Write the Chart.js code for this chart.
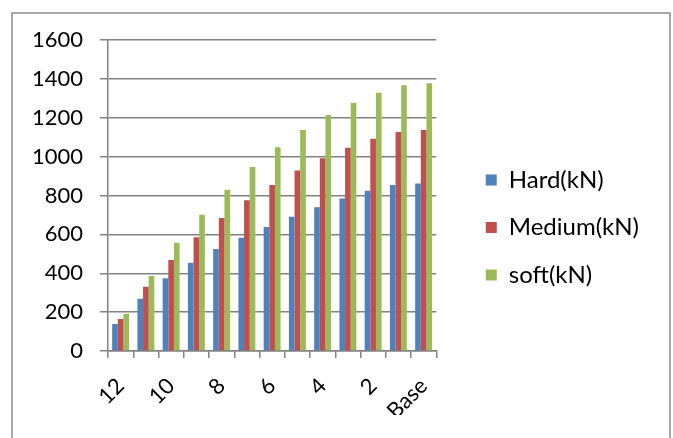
<!DOCTYPE html>
<html>
<head>
<meta charset="utf-8">
<script src="https://cdn.jsdelivr.net/npm/chart.js@4/dist/chart.umd.min.js"></script>
<style>
  html, body { margin: 0; padding: 0; background: #ffffff; }
  #wrap { width: 673px; height: 438px; }
</style>
</head>
<body>
<div id="wrap"><canvas id="c" width="673" height="438"></canvas></div>
<script>
// Storey levels, from top storey down to the base
const categories = ['12', '11', '10', '9', '8', '7', '6', '5', '4', '3', '2', '1', 'Base'];

// Storey shear per soil type (kN)
const hardKN   = [139, 269, 374, 454, 525, 583, 638, 691, 739, 785, 825, 854, 862];
const mediumKN = [165, 331, 468, 585, 684, 775, 854, 928, 991, 1046, 1092, 1127, 1137];
const softKN   = [192, 386, 557, 701, 830, 946, 1048, 1137, 1214, 1277, 1329, 1367, 1377];

const yTicks = [0, 200, 400, 600, 800, 1000, 1200, 1400, 1600];

const FONT = 'Lato, "Open Sans", sans-serif';
const GRID = '#828282';

// White page and a thin frame around the whole chart
const framePlugin = {
  id: 'frame',
  beforeDraw(chart) {
    const ctx = chart.ctx;
    ctx.save();
    ctx.fillStyle = '#ffffff';
    ctx.fillRect(0, 0, chart.width, chart.height);
    ctx.restore();
  },
  afterDraw(chart) {
    const ctx = chart.ctx;
    ctx.save();
    ctx.strokeStyle = '#8c8c8c';
    ctx.lineWidth = 1.5;
    ctx.strokeRect(12, 13, 658, 440);
    ctx.restore();
  }
};

new Chart(document.getElementById('c'), {
  type: 'bar',
  data: {
    labels: categories,
    datasets: [
      { label: 'Hard(kN)',   data: hardKN,   backgroundColor: '#4F81BD' },
      { label: 'Medium(kN)', data: mediumKN, backgroundColor: '#C0504D' },
      { label: 'soft(kN)',   data: softKN,   backgroundColor: '#9BBB59' }
    ]
  },
  options: {
    responsive: false,
    animation: false,
    devicePixelRatio: 1,
    layout: { padding: { top: 40, left: 14, right: 24, bottom: 23 } },
    datasets: { bar: { categoryPercentage: 0.67, barPercentage: 1.0 } },
    plugins: {
      tooltip: { enabled: false },
      legend: {
        position: 'right',
        maxWidth: 300,
        labels: {
          boxWidth: 11,
          boxHeight: 11,
          padding: 23.5,
          color: '#000000',
          font: { family: FONT, size: 24 }
        }
      }
    },
    scales: {
      x: {
        offset: true,
        grid: {
          offset: true,
          drawOnChartArea: false,
          drawTicks: true,
          tickLength: 7,
          color: GRID,
          lineWidth: 1.5
        },
        border: { display: true, color: GRID, width: 1.5 },
        ticks: {
          autoSkip: false,
          maxRotation: 45,
          minRotation: 45,
          padding: 15,
          color: '#000000',
          font: { family: FONT, size: 22 },
          callback: (v, i) => (i % 2 === 0 ? categories[i] : '')
        },
        afterFit: (s) => { s.height = 64; }
      },
      y: {
        min: 0,
        max: 1600,
        afterBuildTicks: (s) => { s.ticks = yTicks.map(v => ({ value: v })); },
        grid: {
          color: GRID,
          lineWidth: 1.5,
          tickLength: 8
        },
        border: { display: true, color: GRID, width: 1.5 },
        ticks: {
          padding: 17,
          color: '#000000',
          font: { family: FONT, size: 22 },
          callback: (v) => String(v)
        },
        afterFit: (s) => { s.width = 94; }
      },
      gap: {
        type: 'linear',
        position: 'right',
        display: true,
        grid: { display: false },
        border: { display: false },
        ticks: { display: false },
        afterFit: (s) => { s.width = 26; }
      }
    }
  },
  plugins: [framePlugin]
});
</script>
</body>
</html>
